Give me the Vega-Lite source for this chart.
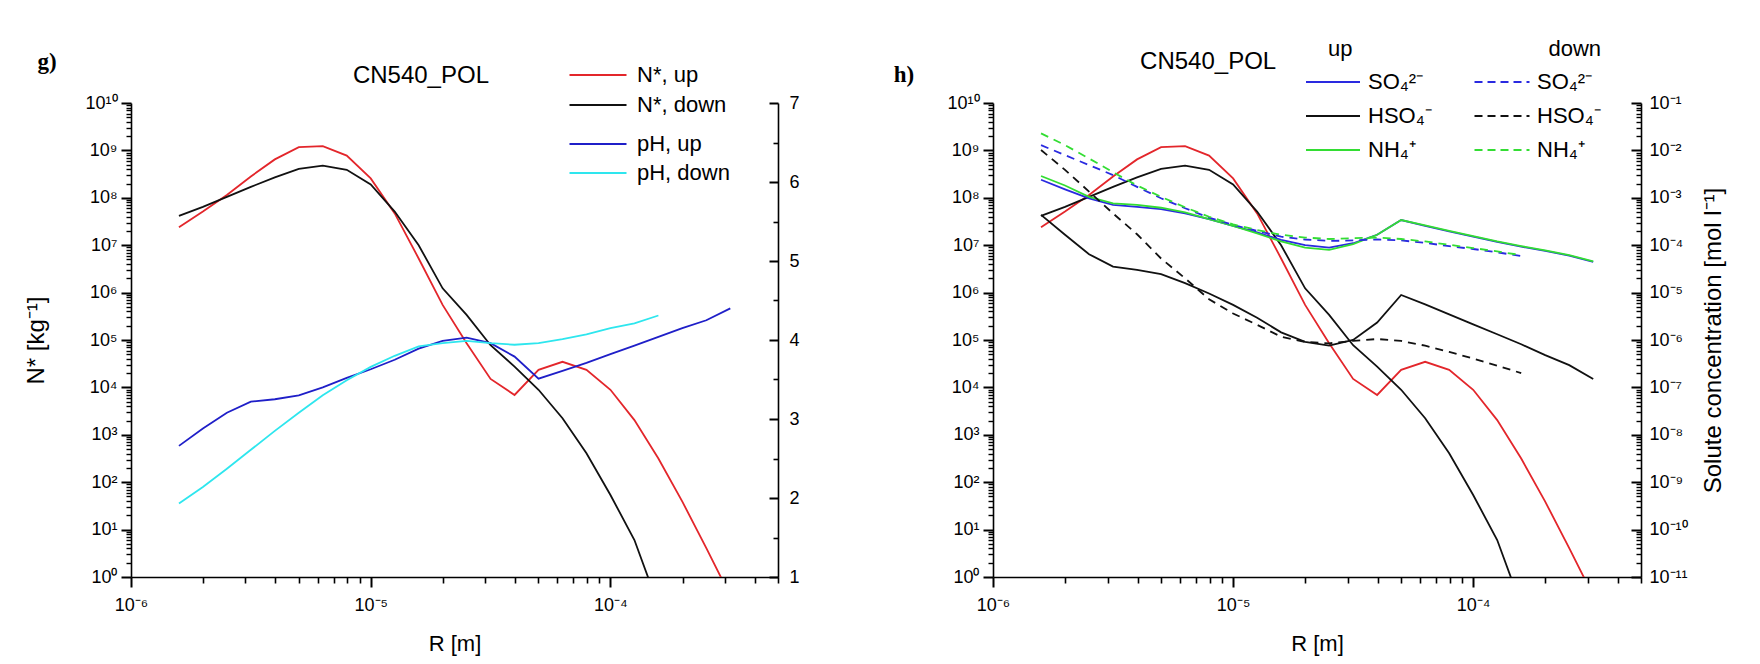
{
  "$schema": "https://vega.github.io/schema/vega-lite/v6.json",
  "background": "white",
  "padding": {"left": 24, "top": 39, "right": 10, "bottom": 5},
  "config": {
    "view": {"stroke": null},
    "font": "Liberation Sans",
    "axis": {"grid": false, "ticks": true, "domainColor": "#000000", "tickColor": "#000000", "tickOpacity": 1, "labelColor": "black", "titleColor": "black", "domainWidth": 1.6, "tickWidth": 2, "labelFont": "Liberation Sans", "titleFont": "Liberation Sans", "titleFontWeight": "normal", "labelFontSize": 18, "titleFontSize": 22, "labelOverlap": false, "labelFlush": false},
    "legend": {"labelFont": "Liberation Sans", "titleFont": "Liberation Sans", "labelColor": "black", "titleColor": "black", "titleFontWeight": "normal", "labelFontSize": 22, "titleFontSize": 22, "padding": 0, "labelLimit": 400, "symbolStrokeWidth": 1.8}
  },
  "datasets": {
    "N": [
      {"R": 1.585e-6, "s": "N*, up", "v": 2.40e7}, {"R": 1.995e-6, "s": "N*, up", "v": 5.13e7}, {"R": 2.512e-6, "s": "N*, up", "v": 1.15e8}, {"R": 3.162e-6, "s": "N*, up", "v": 2.82e8}, {"R": 3.981e-6, "s": "N*, up", "v": 6.46e8}, {"R": 5.012e-6, "s": "N*, up", "v": 1.17e9}, {"R": 6.310e-6, "s": "N*, up", "v": 1.23e9}, {"R": 7.943e-6, "s": "N*, up", "v": 7.76e8}, {"R": 1.0e-5, "s": "N*, up", "v": 2.57e8}, {"R": 1.259e-5, "s": "N*, up", "v": 4.68e7}, {"R": 1.585e-5, "s": "N*, up", "v": 5.25e6}, {"R": 1.995e-5, "s": "N*, up", "v": 5.50e5}, {"R": 2.512e-5, "s": "N*, up", "v": 8.51e4}, {"R": 3.162e-5, "s": "N*, up", "v": 1.51e4}, {"R": 3.981e-5, "s": "N*, up", "v": 6.92e3}, {"R": 5.012e-5, "s": "N*, up", "v": 2.34e4}, {"R": 6.310e-5, "s": "N*, up", "v": 3.47e4}, {"R": 7.943e-5, "s": "N*, up", "v": 2.34e4}, {"R": 1.0e-4, "s": "N*, up", "v": 8.91e3}, {"R": 1.259e-4, "s": "N*, up", "v": 2.04e3}, {"R": 1.585e-4, "s": "N*, up", "v": 316}, {"R": 1.995e-4, "s": "N*, up", "v": 38.9}, {"R": 2.512e-4, "s": "N*, up", "v": 4.07}, {"R": 3.162e-4, "s": "N*, up", "v": 0.398},
      {"R": 1.585e-6, "s": "N*, down", "v": 4.17e7}, {"R": 1.995e-6, "s": "N*, down", "v": 6.46e7}, {"R": 2.512e-6, "s": "N*, down", "v": 1.05e8}, {"R": 3.162e-6, "s": "N*, down", "v": 1.70e8}, {"R": 3.981e-6, "s": "N*, down", "v": 2.69e8}, {"R": 5.012e-6, "s": "N*, down", "v": 4.07e8}, {"R": 6.310e-6, "s": "N*, down", "v": 4.79e8}, {"R": 7.943e-6, "s": "N*, down", "v": 3.89e8}, {"R": 1.0e-5, "s": "N*, down", "v": 1.91e8}, {"R": 1.259e-5, "s": "N*, down", "v": 5.13e7}, {"R": 1.585e-5, "s": "N*, down", "v": 1.0e7}, {"R": 1.995e-5, "s": "N*, down", "v": 1.23e6}, {"R": 2.512e-5, "s": "N*, down", "v": 3.39e5}, {"R": 3.162e-5, "s": "N*, down", "v": 7.76e4}, {"R": 3.981e-5, "s": "N*, down", "v": 2.75e4}, {"R": 5.012e-5, "s": "N*, down", "v": 8.91e3}, {"R": 6.310e-5, "s": "N*, down", "v": 2.24e3}, {"R": 7.943e-5, "s": "N*, down", "v": 407}, {"R": 1.0e-4, "s": "N*, down", "v": 53.7}, {"R": 1.259e-4, "s": "N*, down", "v": 6.03}, {"R": 1.585e-4, "s": "N*, down", "v": 0.251}
    ],
    "pH": [
      {"R": 1.585e-6, "s": "pH, up", "v": 2.66}, {"R": 1.995e-6, "s": "pH, up", "v": 2.88}, {"R": 2.512e-6, "s": "pH, up", "v": 3.08}, {"R": 3.162e-6, "s": "pH, up", "v": 3.22}, {"R": 3.981e-6, "s": "pH, up", "v": 3.25}, {"R": 5.012e-6, "s": "pH, up", "v": 3.30}, {"R": 6.310e-6, "s": "pH, up", "v": 3.40}, {"R": 7.943e-6, "s": "pH, up", "v": 3.52}, {"R": 1.0e-5, "s": "pH, up", "v": 3.63}, {"R": 1.259e-5, "s": "pH, up", "v": 3.75}, {"R": 1.585e-5, "s": "pH, up", "v": 3.89}, {"R": 1.995e-5, "s": "pH, up", "v": 3.99}, {"R": 2.512e-5, "s": "pH, up", "v": 4.03}, {"R": 3.162e-5, "s": "pH, up", "v": 3.96}, {"R": 3.981e-5, "s": "pH, up", "v": 3.79}, {"R": 5.012e-5, "s": "pH, up", "v": 3.51}, {"R": 6.310e-5, "s": "pH, up", "v": 3.61}, {"R": 7.943e-5, "s": "pH, up", "v": 3.71}, {"R": 1.0e-4, "s": "pH, up", "v": 3.82}, {"R": 1.259e-4, "s": "pH, up", "v": 3.93}, {"R": 1.585e-4, "s": "pH, up", "v": 4.04}, {"R": 1.995e-4, "s": "pH, up", "v": 4.15}, {"R": 2.512e-4, "s": "pH, up", "v": 4.25}, {"R": 3.162e-4, "s": "pH, up", "v": 4.40},
      {"R": 1.585e-6, "s": "pH, down", "v": 1.93}, {"R": 1.995e-6, "s": "pH, down", "v": 2.14}, {"R": 2.512e-6, "s": "pH, down", "v": 2.37}, {"R": 3.162e-6, "s": "pH, down", "v": 2.61}, {"R": 3.981e-6, "s": "pH, down", "v": 2.85}, {"R": 5.012e-6, "s": "pH, down", "v": 3.08}, {"R": 6.310e-6, "s": "pH, down", "v": 3.30}, {"R": 7.943e-6, "s": "pH, down", "v": 3.49}, {"R": 1.0e-5, "s": "pH, down", "v": 3.66}, {"R": 1.259e-5, "s": "pH, down", "v": 3.80}, {"R": 1.585e-5, "s": "pH, down", "v": 3.92}, {"R": 1.995e-5, "s": "pH, down", "v": 3.96}, {"R": 2.512e-5, "s": "pH, down", "v": 3.99}, {"R": 3.162e-5, "s": "pH, down", "v": 3.96}, {"R": 3.981e-5, "s": "pH, down", "v": 3.94}, {"R": 5.012e-5, "s": "pH, down", "v": 3.96}, {"R": 6.310e-5, "s": "pH, down", "v": 4.01}, {"R": 7.943e-5, "s": "pH, down", "v": 4.07}, {"R": 1.0e-4, "s": "pH, down", "v": 4.15}, {"R": 1.259e-4, "s": "pH, down", "v": 4.21}, {"R": 1.585e-4, "s": "pH, down", "v": 4.31}
    ],
    "solUp": [
      {"R": 1.585e-6, "s": "SO₄²⁻", "v": 2.40e-3}, {"R": 1.995e-6, "s": "SO₄²⁻", "v": 1.51e-3}, {"R": 2.512e-6, "s": "SO₄²⁻", "v": 9.77e-4}, {"R": 3.162e-6, "s": "SO₄²⁻", "v": 7.08e-4}, {"R": 3.981e-6, "s": "SO₄²⁻", "v": 6.46e-4}, {"R": 5.012e-6, "s": "SO₄²⁻", "v": 5.75e-4}, {"R": 6.310e-6, "s": "SO₄²⁻", "v": 4.68e-4}, {"R": 7.943e-6, "s": "SO₄²⁻", "v": 3.55e-4}, {"R": 1.0e-5, "s": "SO₄²⁻", "v": 2.57e-4}, {"R": 1.259e-5, "s": "SO₄²⁻", "v": 1.86e-4}, {"R": 1.585e-5, "s": "SO₄²⁻", "v": 1.29e-4}, {"R": 1.995e-5, "s": "SO₄²⁻", "v": 1.00e-4}, {"R": 2.512e-5, "s": "SO₄²⁻", "v": 8.91e-5}, {"R": 3.162e-5, "s": "SO₄²⁻", "v": 1.10e-4}, {"R": 3.981e-5, "s": "SO₄²⁻", "v": 1.66e-4}, {"R": 5.012e-5, "s": "SO₄²⁻", "v": 3.39e-4}, {"R": 6.310e-5, "s": "SO₄²⁻", "v": 2.57e-4}, {"R": 7.943e-5, "s": "SO₄²⁻", "v": 1.95e-4}, {"R": 1.0e-4, "s": "SO₄²⁻", "v": 1.51e-4}, {"R": 1.259e-4, "s": "SO₄²⁻", "v": 1.17e-4}, {"R": 1.585e-4, "s": "SO₄²⁻", "v": 9.33e-5}, {"R": 1.995e-4, "s": "SO₄²⁻", "v": 7.59e-5}, {"R": 2.512e-4, "s": "SO₄²⁻", "v": 6.03e-5}, {"R": 3.162e-4, "s": "SO₄²⁻", "v": 4.47e-5},
      {"R": 1.585e-6, "s": "HSO₄⁻", "v": 4.37e-4}, {"R": 1.995e-6, "s": "HSO₄⁻", "v": 1.66e-4}, {"R": 2.512e-6, "s": "HSO₄⁻", "v": 6.46e-5}, {"R": 3.162e-6, "s": "HSO₄⁻", "v": 3.55e-5}, {"R": 3.981e-6, "s": "HSO₄⁻", "v": 3.02e-5}, {"R": 5.012e-6, "s": "HSO₄⁻", "v": 2.45e-5}, {"R": 6.310e-6, "s": "HSO₄⁻", "v": 1.58e-5}, {"R": 7.943e-6, "s": "HSO₄⁻", "v": 9.55e-6}, {"R": 1.0e-5, "s": "HSO₄⁻", "v": 5.50e-6}, {"R": 1.259e-5, "s": "HSO₄⁻", "v": 2.95e-6}, {"R": 1.585e-5, "s": "HSO₄⁻", "v": 1.45e-6}, {"R": 1.995e-5, "s": "HSO₄⁻", "v": 9.12e-7}, {"R": 2.512e-5, "s": "HSO₄⁻", "v": 7.59e-7}, {"R": 3.162e-5, "s": "HSO₄⁻", "v": 1.00e-6}, {"R": 3.981e-5, "s": "HSO₄⁻", "v": 2.34e-6}, {"R": 5.012e-5, "s": "HSO₄⁻", "v": 8.91e-6}, {"R": 6.310e-5, "s": "HSO₄⁻", "v": 5.62e-6}, {"R": 7.943e-5, "s": "HSO₄⁻", "v": 3.47e-6}, {"R": 1.0e-4, "s": "HSO₄⁻", "v": 2.14e-6}, {"R": 1.259e-4, "s": "HSO₄⁻", "v": 1.32e-6}, {"R": 1.585e-4, "s": "HSO₄⁻", "v": 8.13e-7}, {"R": 1.995e-4, "s": "HSO₄⁻", "v": 4.79e-7}, {"R": 2.512e-4, "s": "HSO₄⁻", "v": 2.95e-7}, {"R": 3.162e-4, "s": "HSO₄⁻", "v": 1.51e-7},
      {"R": 1.585e-6, "s": "NH₄⁺", "v": 2.88e-3}, {"R": 1.995e-6, "s": "NH₄⁺", "v": 1.82e-3}, {"R": 2.512e-6, "s": "NH₄⁺", "v": 1.05e-3}, {"R": 3.162e-6, "s": "NH₄⁺", "v": 7.59e-4}, {"R": 3.981e-6, "s": "NH₄⁺", "v": 7.08e-4}, {"R": 5.012e-6, "s": "NH₄⁺", "v": 6.17e-4}, {"R": 6.310e-6, "s": "NH₄⁺", "v": 4.90e-4}, {"R": 7.943e-6, "s": "NH₄⁺", "v": 3.55e-4}, {"R": 1.0e-5, "s": "NH₄⁺", "v": 2.57e-4}, {"R": 1.259e-5, "s": "NH₄⁺", "v": 1.78e-4}, {"R": 1.585e-5, "s": "NH₄⁺", "v": 1.20e-4}, {"R": 1.995e-5, "s": "NH₄⁺", "v": 8.91e-5}, {"R": 2.512e-5, "s": "NH₄⁺", "v": 7.94e-5}, {"R": 3.162e-5, "s": "NH₄⁺", "v": 1.05e-4}, {"R": 3.981e-5, "s": "NH₄⁺", "v": 1.66e-4}, {"R": 5.012e-5, "s": "NH₄⁺", "v": 3.39e-4}, {"R": 6.310e-5, "s": "NH₄⁺", "v": 2.63e-4}, {"R": 7.943e-5, "s": "NH₄⁺", "v": 2.00e-4}, {"R": 1.0e-4, "s": "NH₄⁺", "v": 1.55e-4}, {"R": 1.259e-4, "s": "NH₄⁺", "v": 1.20e-4}, {"R": 1.585e-4, "s": "NH₄⁺", "v": 9.55e-5}, {"R": 1.995e-4, "s": "NH₄⁺", "v": 7.76e-5}, {"R": 2.512e-4, "s": "NH₄⁺", "v": 6.17e-5}, {"R": 3.162e-4, "s": "NH₄⁺", "v": 4.57e-5}
    ],
    "solDown": [
      {"R": 1.585e-6, "s": "SO₄²⁻", "v": 1.29e-2}, {"R": 1.995e-6, "s": "SO₄²⁻", "v": 7.94e-3}, {"R": 2.512e-6, "s": "SO₄²⁻", "v": 4.90e-3}, {"R": 3.162e-6, "s": "SO₄²⁻", "v": 3.02e-3}, {"R": 3.981e-6, "s": "SO₄²⁻", "v": 1.70e-3}, {"R": 5.012e-6, "s": "SO₄²⁻", "v": 9.77e-4}, {"R": 6.310e-6, "s": "SO₄²⁻", "v": 6.03e-4}, {"R": 7.943e-6, "s": "SO₄²⁻", "v": 3.80e-4}, {"R": 1.0e-5, "s": "SO₄²⁻", "v": 2.69e-4}, {"R": 1.259e-5, "s": "SO₄²⁻", "v": 2.00e-4}, {"R": 1.585e-5, "s": "SO₄²⁻", "v": 1.51e-4}, {"R": 1.995e-5, "s": "SO₄²⁻", "v": 1.32e-4}, {"R": 2.512e-5, "s": "SO₄²⁻", "v": 1.23e-4}, {"R": 3.162e-5, "s": "SO₄²⁻", "v": 1.26e-4}, {"R": 3.981e-5, "s": "SO₄²⁻", "v": 1.32e-4}, {"R": 5.012e-5, "s": "SO₄²⁻", "v": 1.26e-4}, {"R": 6.310e-5, "s": "SO₄²⁻", "v": 1.12e-4}, {"R": 7.943e-5, "s": "SO₄²⁻", "v": 9.55e-5}, {"R": 1.0e-4, "s": "SO₄²⁻", "v": 8.32e-5}, {"R": 1.259e-4, "s": "SO₄²⁻", "v": 7.08e-5}, {"R": 1.585e-4, "s": "SO₄²⁻", "v": 5.89e-5},
      {"R": 1.585e-6, "s": "HSO₄⁻", "v": 1.02e-2}, {"R": 1.995e-6, "s": "HSO₄⁻", "v": 3.89e-3}, {"R": 2.512e-6, "s": "HSO₄⁻", "v": 1.35e-3}, {"R": 3.162e-6, "s": "HSO₄⁻", "v": 4.68e-4}, {"R": 3.981e-6, "s": "HSO₄⁻", "v": 1.70e-4}, {"R": 5.012e-6, "s": "HSO₄⁻", "v": 5.25e-5}, {"R": 6.310e-6, "s": "HSO₄⁻", "v": 2.00e-5}, {"R": 7.943e-6, "s": "HSO₄⁻", "v": 7.24e-6}, {"R": 1.0e-5, "s": "HSO₄⁻", "v": 3.63e-6}, {"R": 1.259e-5, "s": "HSO₄⁻", "v": 2.09e-6}, {"R": 1.585e-5, "s": "HSO₄⁻", "v": 1.17e-6}, {"R": 1.995e-5, "s": "HSO₄⁻", "v": 9.12e-7}, {"R": 2.512e-5, "s": "HSO₄⁻", "v": 8.51e-7}, {"R": 3.162e-5, "s": "HSO₄⁻", "v": 9.55e-7}, {"R": 3.981e-5, "s": "HSO₄⁻", "v": 1.05e-6}, {"R": 5.012e-5, "s": "HSO₄⁻", "v": 9.55e-7}, {"R": 6.310e-5, "s": "HSO₄⁻", "v": 7.59e-7}, {"R": 7.943e-5, "s": "HSO₄⁻", "v": 5.62e-7}, {"R": 1.0e-4, "s": "HSO₄⁻", "v": 4.07e-7}, {"R": 1.259e-4, "s": "HSO₄⁻", "v": 2.88e-7}, {"R": 1.585e-4, "s": "HSO₄⁻", "v": 2.00e-7},
      {"R": 1.585e-6, "s": "NH₄⁺", "v": 2.29e-2}, {"R": 1.995e-6, "s": "NH₄⁺", "v": 1.29e-2}, {"R": 2.512e-6, "s": "NH₄⁺", "v": 6.76e-3}, {"R": 3.162e-6, "s": "NH₄⁺", "v": 3.47e-3}, {"R": 3.981e-6, "s": "NH₄⁺", "v": 1.82e-3}, {"R": 5.012e-6, "s": "NH₄⁺", "v": 1.05e-3}, {"R": 6.310e-6, "s": "NH₄⁺", "v": 6.31e-4}, {"R": 7.943e-6, "s": "NH₄⁺", "v": 3.98e-4}, {"R": 1.0e-5, "s": "NH₄⁺", "v": 2.75e-4}, {"R": 1.259e-5, "s": "NH₄⁺", "v": 2.09e-4}, {"R": 1.585e-5, "s": "NH₄⁺", "v": 1.66e-4}, {"R": 1.995e-5, "s": "NH₄⁺", "v": 1.45e-4}, {"R": 2.512e-5, "s": "NH₄⁺", "v": 1.35e-4}, {"R": 3.162e-5, "s": "NH₄⁺", "v": 1.41e-4}, {"R": 3.981e-5, "s": "NH₄⁺", "v": 1.45e-4}, {"R": 5.012e-5, "s": "NH₄⁺", "v": 1.35e-4}, {"R": 6.310e-5, "s": "NH₄⁺", "v": 1.20e-4}, {"R": 7.943e-5, "s": "NH₄⁺", "v": 1.02e-4}, {"R": 1.0e-4, "s": "NH₄⁺", "v": 8.71e-5}, {"R": 1.259e-4, "s": "NH₄⁺", "v": 7.41e-5}, {"R": 1.585e-4, "s": "NH₄⁺", "v": 6.17e-5}
    ]
  },
  "hconcat": [
    {
      "width": 647,
      "height": 474,
      "layer": [
        {
          "layer": [
            {
              "data": {"name": "N"},
              "mark": {"type": "line", "clip": true, "strokeWidth": 1.8},
              "encoding": {
                "x": {"field": "R", "type": "quantitative", "scale": {"type": "log", "domain": [1e-6, 5e-4]},
                  "axis": {"orient": "bottom", "title": "R [m]", "values": [1e-6, 1e-5, 1e-4],
                    "labelExpr": "'10⁻' + substring('⁰¹²³⁴⁵⁶⁷⁸⁹', abs(round(log(datum.value)/LN10)), abs(round(log(datum.value)/LN10))+1)",
                    "ticks": true, "tickSize": 10, "tickWidth": 2, "labelPadding": 9, "titlePadding": 19}},
                "y": {"field": "v", "type": "quantitative", "scale": {"type": "log", "domain": [1, 1e10]},
                  "axis": {"orient": "left", "title": "N* [kg⁻¹]", "titleFontSize": 24, "titlePadding": 36,
                    "values": [1, 10, 100, 1e3, 1e4, 1e5, 1e6, 1e7, 1e8, 1e9, 1e10],
                    "labelExpr": "'10' + (round(log(datum.value)/LN10) >= 10 ? '¹⁰' : substring('⁰¹²³⁴⁵⁶⁷⁸⁹', round(log(datum.value)/LN10), round(log(datum.value)/LN10)+1))",
                    "ticks": true, "tickSize": 10, "tickWidth": 2, "labelPadding": 4}},
                "color": {"field": "s", "type": "nominal", "scale": {"domain": ["N*, up", "N*, down"], "range": ["#e3262b", "#111111"]},
                  "legend": {"orient": "none", "legendX": 456, "legendY": -39, "title": null, "symbolType": "M-3,0H3", "symbolSize": 361, "labelOffset": 28, "rowPadding": 8}}
              }
            },
            {
              "data": {"values": [{}]},
              "mark": {"type": "text", "font": "Liberation Serif", "fontWeight": "bold", "fontSize": 23, "align": "center", "baseline": "middle", "clip": false},
              "encoding": {
                "x": {"datum": 4.47e-7, "type": "quantitative", "scale": {"type": "log", "domain": [1e-6, 5e-4]},
                  "axis": {"orient": "bottom", "title": null, "labels": false, "domain": false, "ticks": true, "tickSize": 6, "tickWidth": 1.6, "values": [2e-6,3e-6,4e-6,5e-6,6e-6,7e-6,8e-6,9e-6,2e-5,3e-5,4e-5,5e-5,6e-5,7e-5,8e-5,9e-5,2e-4,3e-4,4e-4,5e-4]}},
                "y": {"datum": 7.3e10, "type": "quantitative", "scale": {"type": "log", "domain": [1, 1e10]},
                  "axis": {"orient": "left", "title": null, "labels": false, "domain": false, "ticks": true, "tickSize": 5, "tickWidth": 1.4, "values": [2,3,4,5,6,7,8,9,20,30,40,50,60,70,80,90,200,300,400,500,600,700,800,900,2e3,3e3,4e3,5e3,6e3,7e3,8e3,9e3,2e4,3e4,4e4,5e4,6e4,7e4,8e4,9e4,2e5,3e5,4e5,5e5,6e5,7e5,8e5,9e5,2e6,3e6,4e6,5e6,6e6,7e6,8e6,9e6,2e7,3e7,4e7,5e7,6e7,7e7,8e7,9e7,2e8,3e8,4e8,5e8,6e8,7e8,8e8,9e8,2e9,3e9,4e9,5e9,6e9,7e9,8e9,9e9]}},
                "text": {"value": "g)"}
              }
            },
            {
              "data": {"values": [{}]},
              "mark": {"type": "text", "font": "Liberation Sans", "fontSize": 24, "align": "center", "baseline": "middle", "clip": false},
              "encoding": {
                "x": {"datum": 1.62e-5, "type": "quantitative", "scale": {"type": "log", "domain": [1e-6, 5e-4]}, "axis": null},
                "y": {"datum": 3.7e10, "type": "quantitative", "scale": {"type": "log", "domain": [1, 1e10]}, "axis": null},
                "text": {"value": "CN540_POL"}
              }
            }
          ],
          "resolve": {"axis": {"x": "independent", "y": "independent"}}
        },
        {
          "layer": [
            {
              "data": {"name": "pH"},
              "mark": {"type": "line", "clip": true, "strokeWidth": 1.8},
              "encoding": {
                "x": {"field": "R", "type": "quantitative", "scale": {"type": "log", "domain": [1e-6, 5e-4]}, "axis": null},
                "y": {"field": "v", "type": "quantitative", "scale": {"domain": [1, 7], "zero": false},
                  "axis": {"orient": "right", "title": null, "values": [1, 2, 3, 4, 5, 6, 7], "format": "d", "ticks": true, "tickSize": -9, "tickWidth": 2, "labelPadding": 20}},
                "color": {"field": "s", "type": "nominal", "scale": {"domain": ["pH, up", "pH, down"], "range": ["#1f1fc8", "#2ee6ee"]},
                  "legend": {"orient": "none", "legendX": 456, "legendY": 30, "title": null, "symbolType": "M-3,0H3", "symbolSize": 361, "labelOffset": 28, "rowPadding": 7}}
              }
            },
            {
              "data": {"name": "pH"},
              "mark": {"type": "line", "clip": true, "opacity": 0},
              "encoding": {
                "x": {"field": "R", "type": "quantitative", "scale": {"type": "log", "domain": [1e-6, 5e-4]}, "axis": null},
                "y": {"field": "v", "type": "quantitative", "scale": {"domain": [1, 7], "zero": false},
                  "axis": {"orient": "right", "title": null, "labels": false, "domain": false, "ticks": true, "values": [1.5, 2.5, 3.5, 4.5, 5.5, 6.5], "tickSize": -5, "tickWidth": 1.6}},
                "detail": {"field": "s"}
              }
            }
          ],
          "resolve": {"axis": {"y": "independent"}}
        }
      ],
      "resolve": {"scale": {"y": "independent", "color": "independent"}}
    },
    {
      "width": 648,
      "height": 474,
      "layer": [
        {
          "layer": [
            {
              "data": {"name": "N"},
              "mark": {"type": "line", "clip": true, "strokeWidth": 1.8},
              "encoding": {
                "x": {"field": "R", "type": "quantitative", "scale": {"type": "log", "domain": [1e-6, 5e-4]},
                  "axis": {"orient": "bottom", "title": "R [m]", "values": [1e-6, 1e-5, 1e-4],
                    "labelExpr": "'10⁻' + substring('⁰¹²³⁴⁵⁶⁷⁸⁹', abs(round(log(datum.value)/LN10)), abs(round(log(datum.value)/LN10))+1)",
                    "ticks": true, "tickSize": 10, "tickWidth": 2, "labelPadding": 9, "titlePadding": 19}},
                "y": {"field": "v", "type": "quantitative", "scale": {"type": "log", "domain": [1, 1e10]},
                  "axis": {"orient": "left", "title": null,
                    "values": [1, 10, 100, 1e3, 1e4, 1e5, 1e6, 1e7, 1e8, 1e9, 1e10],
                    "labelExpr": "'10' + (round(log(datum.value)/LN10) >= 10 ? '¹⁰' : substring('⁰¹²³⁴⁵⁶⁷⁸⁹', round(log(datum.value)/LN10), round(log(datum.value)/LN10)+1))",
                    "ticks": true, "tickSize": 10, "tickWidth": 2, "labelPadding": 4}},
                "color": {"field": "s", "type": "nominal", "scale": {"domain": ["N*, up", "N*, down"], "range": ["#e3262b", "#111111"]}, "legend": null}
              }
            },
            {
              "data": {"values": [{}]},
              "mark": {"type": "text", "font": "Liberation Serif", "fontWeight": "bold", "fontSize": 23, "align": "center", "baseline": "middle", "clip": false},
              "encoding": {
                "x": {"datum": 4.26e-7, "type": "quantitative", "scale": {"type": "log", "domain": [1e-6, 5e-4]},
                  "axis": {"orient": "bottom", "title": null, "labels": false, "domain": false, "ticks": true, "tickSize": 6, "tickWidth": 1.6, "values": [2e-6,3e-6,4e-6,5e-6,6e-6,7e-6,8e-6,9e-6,2e-5,3e-5,4e-5,5e-5,6e-5,7e-5,8e-5,9e-5,2e-4,3e-4,4e-4,5e-4]}},
                "y": {"datum": 3.9e10, "type": "quantitative", "scale": {"type": "log", "domain": [1, 1e10]},
                  "axis": {"orient": "left", "title": null, "labels": false, "domain": false, "ticks": true, "tickSize": 5, "tickWidth": 1.4, "values": [2,3,4,5,6,7,8,9,20,30,40,50,60,70,80,90,200,300,400,500,600,700,800,900,2e3,3e3,4e3,5e3,6e3,7e3,8e3,9e3,2e4,3e4,4e4,5e4,6e4,7e4,8e4,9e4,2e5,3e5,4e5,5e5,6e5,7e5,8e5,9e5,2e6,3e6,4e6,5e6,6e6,7e6,8e6,9e6,2e7,3e7,4e7,5e7,6e7,7e7,8e7,9e7,2e8,3e8,4e8,5e8,6e8,7e8,8e8,9e8,2e9,3e9,4e9,5e9,6e9,7e9,8e9,9e9]}},
                "text": {"value": "h)"}
              }
            },
            {
              "data": {"values": [{}]},
              "mark": {"type": "text", "font": "Liberation Sans", "fontSize": 24, "align": "center", "baseline": "middle", "clip": false},
              "encoding": {
                "x": {"datum": 7.87e-6, "type": "quantitative", "scale": {"type": "log", "domain": [1e-6, 5e-4]}, "axis": null},
                "y": {"datum": 7.3e10, "type": "quantitative", "scale": {"type": "log", "domain": [1, 1e10]}, "axis": null},
                "text": {"value": "CN540_POL"}
              }
            }
          ],
          "resolve": {"axis": {"x": "independent", "y": "independent"}}
        },
        {
          "layer": [
            {
              "data": {"name": "solUp"},
              "mark": {"type": "line", "clip": true, "strokeWidth": 1.8},
              "encoding": {
                "x": {"field": "R", "type": "quantitative", "scale": {"type": "log", "domain": [1e-6, 5e-4]}, "axis": null},
                "y": {"field": "v", "type": "quantitative", "scale": {"type": "log", "domain": [1e-11, 1e-1]},
                  "axis": {"orient": "right", "title": "Solute concentration [mol l⁻¹]", "titleAngle": 270, "titleFontSize": 24, "titlePadding": 38,
                    "values": [1e-11, 1e-10, 1e-9, 1e-8, 1e-7, 1e-6, 1e-5, 1e-4, 1e-3, 1e-2, 1e-1],
                    "labelExpr": "'10⁻' + (abs(round(log(datum.value)/LN10)) >= 10 ? '¹' : '') + substring('⁰¹²³⁴⁵⁶⁷⁸⁹', abs(round(log(datum.value)/LN10)) % 10, abs(round(log(datum.value)/LN10)) % 10 + 1)",
                    "ticks": true, "tickSize": -10, "tickWidth": 2, "labelPadding": 18}},
                "color": {"field": "s", "type": "nominal", "scale": {"domain": ["SO₄²⁻", "HSO₄⁻", "NH₄⁺"], "range": ["#2a2ae0", "#111111", "#33dd33"]},
                  "legend": {"orient": "none", "legendX": 329, "legendY": -64, "title": "\u200b\u00a0up", "titlePadding": 10, "symbolType": "M-3,0H3", "symbolSize": 324, "labelOffset": 24, "rowPadding": 12}}
              }
            },
            {
              "data": {"name": "solDown"},
              "mark": {"type": "line", "clip": true, "strokeWidth": 1.8, "strokeDash": [8, 6]},
              "encoding": {
                "x": {"field": "R", "type": "quantitative", "scale": {"type": "log", "domain": [1e-6, 5e-4]}, "axis": null},
                "y": {"field": "v", "type": "quantitative", "scale": {"type": "log", "domain": [1e-11, 1e-1]},
                  "axis": {"orient": "right", "title": null, "labels": false, "domain": false, "ticks": true, "tickSize": -5, "tickWidth": 1.4,
                    "values": [2e-11,3e-11,4e-11,5e-11,6e-11,7e-11,8e-11,9e-11,2e-10,3e-10,4e-10,5e-10,6e-10,7e-10,8e-10,9e-10,2e-9,3e-9,4e-9,5e-9,6e-9,7e-9,8e-9,9e-9,2e-8,3e-8,4e-8,5e-8,6e-8,7e-8,8e-8,9e-8,2e-7,3e-7,4e-7,5e-7,6e-7,7e-7,8e-7,9e-7,2e-6,3e-6,4e-6,5e-6,6e-6,7e-6,8e-6,9e-6,2e-5,3e-5,4e-5,5e-5,6e-5,7e-5,8e-5,9e-5,2e-4,3e-4,4e-4,5e-4,6e-4,7e-4,8e-4,9e-4,2e-3,3e-3,4e-3,5e-3,6e-3,7e-3,8e-3,9e-3,2e-2,3e-2,4e-2,5e-2,6e-2,7e-2,8e-2,9e-2]}},
                "color": {"field": "s", "type": "nominal", "scale": {"domain": ["SO₄²⁻", "HSO₄⁻", "NH₄⁺"], "range": ["#2a2ae0", "#111111", "#33dd33"]},
                  "legend": {"orient": "none", "legendX": 498, "legendY": -64, "title": "down", "titleAnchor": "end", "titlePadding": 10, "symbolType": "M-3,0H3", "symbolSize": 336, "symbolDash": [8, 5], "labelOffset": 24, "rowPadding": 12}}
              }
            }
          ],
          "resolve": {"scale": {"color": "independent"}, "axis": {"y": "independent"}}
        }
      ],
      "resolve": {"scale": {"y": "independent", "color": "independent"}}
    }
  ],
  "spacing": 215,
  "bounds": "flush",
  "resolve": {"scale": {"color": "independent"}, "legend": {"color": "independent"}}
}
